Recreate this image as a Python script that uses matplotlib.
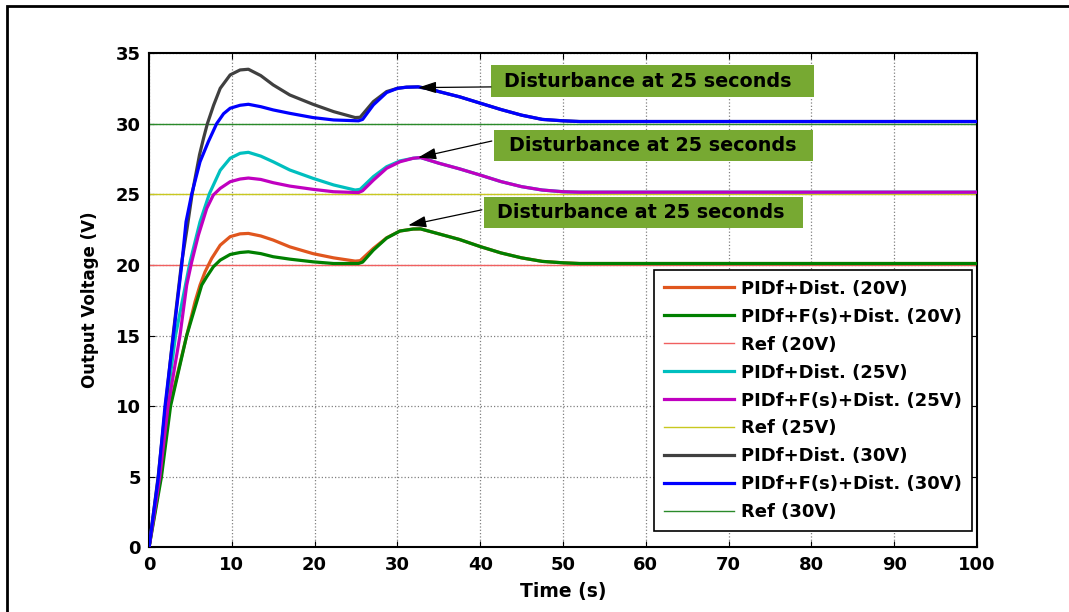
import numpy as np
import matplotlib
matplotlib.use('Agg')
import matplotlib.pyplot as plt
from matplotlib.patches import Rectangle

plt.rcParams['font.family'] = ['DejaVu Sans']
plt.rcParams['font.weight'] = 'bold'

# ---- data ----
t_gray = [0, 1.1, 2.0, 2.9, 3.9, 4.6, 5.2, 6.1, 6.6, 7.05, 7.8, 8.6, 9.8, 11.0, 12.0, 13.5, 15.0,
          17.0, 19.8, 22.3, 24.9, 25.5, 27.1, 28.7, 30.0, 31.1, 32.5, 34.0, 35.0, 37.5, 40.0, 42.5,
          45.0, 47.5, 50.0, 52.0, 100]
v_gray = [0, 5, 10, 15, 20, 22.6, 25, 27.8, 29.0, 30.0, 31.3, 32.5, 33.45, 33.8, 33.85, 33.4, 32.74,
          32.03, 31.37, 30.85, 30.43, 30.45, 31.56, 32.27, 32.5, 32.58, 32.6, 32.45, 32.27, 31.9,
          31.45, 31.0, 30.6, 30.3, 30.2, 30.15, 30.15]

t_blue = [0, 1.13, 1.93, 2.94, 3.95, 4.47, 5.15, 6.16, 7.17, 8.17, 9.0, 9.8, 11.0, 12.0, 13.5,
          15.0, 17.0, 19.8, 22.3, 25.3, 25.8, 27.1, 28.7, 30.0, 31.1, 32.5, 34.0, 35.0, 37.5, 40.0,
          42.5, 45.0, 47.5, 50.0, 52.0, 100]
v_blue = [0, 5, 10, 15, 20, 23.05, 25, 27.3, 28.73, 30, 30.7, 31.09, 31.3, 31.37, 31.2, 30.97,
          30.73, 30.43, 30.26, 30.2, 30.3, 31.33, 32.2, 32.5, 32.58, 32.6, 32.45, 32.27, 31.9, 31.45,
          31.0, 30.6, 30.3, 30.2, 30.15, 30.15]

t_cyan = [0, 1.2, 2.1, 3.2, 4.95, 6.16, 7.3, 8.6, 9.8, 11.0, 12.0, 13.5, 15.0, 17.0, 19.8, 22.3,
          24.9, 25.5, 27.1, 28.7, 30.3, 31.9, 32.8, 35.0, 37.5, 40.0, 42.5, 45.0, 47.5, 50.0, 52.0, 100]
v_cyan = [0, 5, 10, 15, 20.2, 23.05, 25.05, 26.7, 27.55, 27.9, 27.97, 27.7, 27.3, 26.72, 26.13,
          25.66, 25.3, 25.35, 26.25, 26.95, 27.36, 27.55, 27.6, 27.2, 26.8, 26.36, 25.9, 25.54, 25.3,
          25.18, 25.15, 25.15]

t_mag = [0, 1.3, 2.3, 3.74, 4.55, 5.15, 5.96, 6.97, 7.77, 8.6, 9.8, 11.0, 12.0, 13.5, 15.0, 17.0,
         19.8, 22.3, 25.3, 25.8, 27.1, 28.7, 30.3, 31.9, 32.8, 35.0, 37.5, 40.0, 42.5, 45.0, 47.5,
         50.0, 52.0, 100]
v_mag = [0, 5, 10, 15, 18.57, 20.2, 22.1, 24.0, 24.95, 25.42, 25.89, 26.08, 26.15, 26.05, 25.82,
         25.58, 25.35, 25.18, 25.12, 25.25, 26.0, 26.84, 27.3, 27.55, 27.6, 27.2, 26.8, 26.36, 25.9,
         25.54, 25.3, 25.18, 25.15, 25.15]

t_orange = [0, 1.4, 2.5, 4.55, 5.56, 6.16, 6.76, 7.57, 8.6, 9.8, 11.0, 12.0, 13.5, 15.0, 17.0,
            19.8, 22.3, 24.9, 25.5, 27.1, 28.7, 30.3, 31.9, 32.8, 35.0, 37.5, 40.0, 42.5, 45.0,
            47.5, 50.0, 52.0, 100]
v_orange = [0, 5, 10, 15, 17.4, 18.57, 19.5, 20.46, 21.4, 22.0, 22.2, 22.23, 22.05, 21.76, 21.28,
            20.8, 20.5, 20.27, 20.3, 21.17, 21.92, 22.4, 22.54, 22.55, 22.2, 21.8, 21.3, 20.85,
            20.5, 20.25, 20.15, 20.1, 20.1]

t_green = [0, 1.5, 2.6, 4.55, 6.36, 6.97, 7.77, 8.6, 9.8, 11.0, 12.0, 13.5, 15.0, 17.0, 19.8, 22.3,
           25.3, 25.8, 27.1, 28.7, 30.3, 31.9, 32.8, 35.0, 37.5, 40.0, 42.5, 45.0, 47.5, 50.0, 52.0, 100]
v_green = [0, 5, 10, 15, 18.57, 19.16, 19.87, 20.34, 20.74, 20.88, 20.93, 20.8, 20.58, 20.41,
           20.22, 20.1, 20.1, 20.2, 21.05, 21.9, 22.4, 22.54, 22.55, 22.2, 21.8, 21.3, 20.85, 20.5,
           20.25, 20.15, 20.1, 20.1]

t_ref = [0, 100]
refs = [20, 25, 30]

notes = ['Disturbance at 25 seconds'] * 3
note_tips = [(32.5, 32.55), (32.5, 27.6), (31.3, 22.8)]
note_tails = [(41.3, 32.6), (41.4, 28.77), (40.2, 23.9)]
note_boxes = [(41.3, 31.9, 39.0, 2.26), (41.7, 27.36, 38.5, 2.19), (40.5, 22.6, 38.5, 2.2)]
note_text = [(42.9, 33.0), (43.5, 28.45), (42.0, 23.7)]

fig = plt.figure(figsize=(10.69, 6.12), dpi=100)
fig.patches.append(Rectangle((0.0068, -0.2), 1.3, 0.99 + 0.2, transform=fig.transFigure,
                             fill=False, lw=2, ec='black'))
ax = fig.add_axes([0.1394, 0.1054, 0.7745, 0.808])

lw = 2.3
ax.plot(t_orange, v_orange, color='#e0561e', lw=lw, label='PIDf+Dist. (20V)', zorder=3)
ax.plot(t_green, v_green, color='#008000', lw=lw, label='PIDf+F(s)+Dist. (20V)', zorder=4)
ax.plot(t_ref, [refs[0]] * 2, color='#f06060', lw=1.0, label='Ref (20V)', zorder=2)
ax.plot(t_cyan, v_cyan, color='#00bfbf', lw=lw, label='PIDf+Dist. (25V)', zorder=3)
ax.plot(t_mag, v_mag, color='#c000c0', lw=lw, label='PIDf+F(s)+Dist. (25V)', zorder=4)
ax.plot(t_ref, [refs[1]] * 2, color='#c8c820', lw=1.0, label='Ref (25V)', zorder=2)
ax.plot(t_gray, v_gray, color='#404040', lw=lw, label='PIDf+Dist. (30V)', zorder=3)
ax.plot(t_blue, v_blue, color='#0000ff', lw=lw, label='PIDf+F(s)+Dist. (30V)', zorder=4)
ax.plot(t_ref, [refs[2]] * 2, color='#2a8a2a', lw=1.0, label='Ref (30V)', zorder=2)

for (bx, by, bw, bh), (tx, ty), tip, tail, s in zip(note_boxes, note_text, note_tips, note_tails, notes):
    ax.add_patch(Rectangle((bx, by), bw, bh, facecolor='#77a932', edgecolor='none', zorder=5))
    ax.text(tx, ty, s, fontsize=13.8, fontweight='bold', va='center', ha='left', zorder=6)
    ax.annotate('', xy=tip, xytext=tail, zorder=6,
                arrowprops=dict(arrowstyle='-|>,head_length=1.1,head_width=0.35', color='black',
                                lw=0.9, shrinkA=0, shrinkB=0))

ax.set_xlim(0, 100)
ax.set_ylim(0, 35)
ax.set_xticks(np.arange(0, 101, 10))
ax.set_yticks(np.arange(0, 36, 5))
ax.grid(True, linestyle=':', color='#808080', lw=0.9)
ax.tick_params(direction='in', top=True, right=True, length=4, labelsize=13, pad=6)
for lab in ax.get_xticklabels() + ax.get_yticklabels():
    lab.set_fontweight('bold')
for sp in ax.spines.values():
    sp.set_linewidth(1.5)
ax.set_xlabel('Time (s)', fontsize=13.5, fontweight='bold', labelpad=6)
ax.set_ylabel('Output Voltage (V)', fontsize=12, fontweight='bold', labelpad=12)

leg = ax.legend(loc='lower right', bbox_to_anchor=(0.994, 0.033), borderaxespad=0,
                fontsize=13, handlelength=3.9, handletextpad=0.4, labelspacing=0.55,
                fancybox=False, framealpha=1, edgecolor='black', borderpad=0.55)
leg.get_frame().set_linewidth(1.2)
for txt in leg.get_texts():
    txt.set_fontweight('bold')

fig.savefig('out.png', dpi=100)
